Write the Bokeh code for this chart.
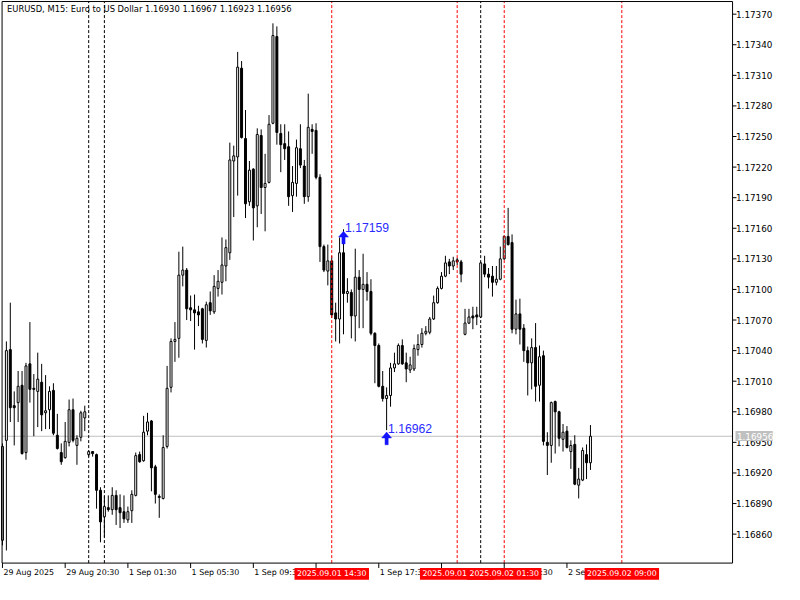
from bokeh.plotting import figure
from bokeh.models import Range1d, Label, ColumnDataSource
from bokeh.core.properties import value
from bokeh.embed import file_html
from bokeh.resources import INLINE

# ---- data (EURUSD M15) ----
opens = [1.16854, 1.16952, 1.17041, 1.16986, 1.16989, 1.17006, 1.16940, 1.17027, 1.17003, 1.17000,
         1.17009, 1.16979, 1.16982, 1.17001, 1.16957, 1.16940, 1.16935, 1.16950, 1.16982, 1.16947,
         1.16955, 1.16974, 1.16938, 1.16941, 1.16938, 1.16903, 1.16877, 1.16886, 1.16884, 1.16898,
         1.16886, 1.16882, 1.16874, 1.16883, 1.16898, 1.16938, 1.16932, 1.16961, 1.16971, 1.16926,
         1.16897, 1.16895, 1.16946, 1.17004, 1.17049, 1.17052, 1.17114, 1.17119, 1.17082, 1.17080,
         1.17078, 1.17081, 1.17050, 1.17087, 1.17078, 1.17101, 1.17107, 1.17123, 1.17136, 1.17226,
         1.17230, 1.17317, 1.17248, 1.17186, 1.17218, 1.17182, 1.17251, 1.17200, 1.17205, 1.17263,
         1.17348, 1.17253, 1.17243, 1.17240, 1.17192, 1.17204, 1.17238, 1.17221, 1.17191, 1.17257,
         1.17256, 1.17210, 1.17142, 1.17118, 1.17128, 1.17077, 1.17071, 1.17136, 1.17096, 1.17097,
         1.17074, 1.17112, 1.17100, 1.17105, 1.17098, 1.17057, 1.17045, 1.17005, 1.16993, 1.16996,
         1.17023, 1.17027, 1.17045, 1.17028, 1.17021, 1.17022, 1.17041, 1.17046, 1.17057, 1.17058,
         1.17071, 1.17087, 1.17101, 1.17113, 1.17127, 1.17123, 1.17129, 1.17127, 1.17056, 1.17067,
         1.17074, 1.17075, 1.17073, 1.17125, 1.17115, 1.17113, 1.17107, 1.17110, 1.17130, 1.17152,
         1.17146, 1.17061, 1.17076, 1.17062, 1.17040, 1.17028, 1.17043, 1.17006, 1.17035, 1.16950,
         1.16947, 1.16990, 1.16980, 1.16953, 1.16961, 1.16941, 1.16948, 1.16908, 1.16913, 1.16938,
         1.16930]
highs = [1.16949, 1.17049, 1.17087, 1.17000, 1.17020, 1.17020, 1.17028, 1.17068, 1.17017, 1.17038,
         1.17027, 1.17016, 1.17005, 1.17008, 1.16978, 1.16949, 1.16970, 1.16992, 1.16993, 1.16957,
         1.16981, 1.16986, 1.16942, 1.16941, 1.16939, 1.16906, 1.16897, 1.16898, 1.16906, 1.16903,
         1.16899, 1.16898, 1.16887, 1.16903, 1.16940, 1.16941, 1.16976, 1.16979, 1.16972, 1.16928,
         1.16899, 1.16957, 1.17025, 1.17052, 1.17068, 1.17137, 1.17142, 1.17121, 1.17094, 1.17095,
         1.17084, 1.17082, 1.17088, 1.17098, 1.17114, 1.17119, 1.17151, 1.17149, 1.17244, 1.17241,
         1.17333, 1.17324, 1.17276, 1.17226, 1.17219, 1.17258, 1.17257, 1.17233, 1.17271, 1.17361,
         1.17358, 1.17262, 1.17262, 1.17255, 1.17221, 1.17247, 1.17262, 1.17227, 1.17292, 1.17262,
         1.17263, 1.17213, 1.17144, 1.17144, 1.17133, 1.17087, 1.17151, 1.17159, 1.17111, 1.17100,
         1.17140, 1.17119, 1.17135, 1.17117, 1.17110, 1.17058, 1.17047, 1.17020, 1.17004, 1.17028,
         1.17038, 1.17047, 1.17051, 1.17038, 1.17034, 1.17046, 1.17056, 1.17062, 1.17064, 1.17073,
         1.17094, 1.17103, 1.17117, 1.17133, 1.17130, 1.17132, 1.17131, 1.17129, 1.17081, 1.17081,
         1.17083, 1.17083, 1.17127, 1.17133, 1.17121, 1.17123, 1.17123, 1.17142, 1.17153, 1.17180,
         1.17154, 1.17090, 1.17091, 1.17066, 1.17044, 1.17052, 1.17067, 1.17045, 1.17040, 1.16960,
         1.16990, 1.16991, 1.16981, 1.16968, 1.16966, 1.16952, 1.16957, 1.16925, 1.16945, 1.16948,
         1.16967]
lows = [1.16849, 1.16844, 1.16970, 1.16947, 1.16970, 1.16938, 1.16933, 1.16989, 1.16956, 1.16965,
        1.16961, 1.16963, 1.16963, 1.16957, 1.16943, 1.16928, 1.16934, 1.16946, 1.16950, 1.16928,
        1.16951, 1.16961, 1.16936, 1.16936, 1.16885, 1.16852, 1.16857, 1.16882, 1.16879, 1.16869,
        1.16866, 1.16871, 1.16871, 1.16871, 1.16897, 1.16930, 1.16931, 1.16957, 1.16902, 1.16890,
        1.16876, 1.16894, 1.16944, 1.16999, 1.17029, 1.17033, 1.17103, 1.17070, 1.17069, 1.17041,
        1.17064, 1.17047, 1.17043, 1.17075, 1.17076, 1.17093, 1.17095, 1.17108, 1.17129, 1.17171,
        1.17192, 1.17248, 1.17170, 1.17182, 1.17148, 1.17161, 1.17174, 1.17157, 1.17204, 1.17262,
        1.17242, 1.17215, 1.17227, 1.17182, 1.17176, 1.17191, 1.17219, 1.17184, 1.17186, 1.17233,
        1.17208, 1.17127, 1.17117, 1.17104, 1.17072, 1.17049, 1.17047, 1.17056, 1.17087, 1.17052,
        1.17049, 1.17062, 1.17062, 1.17089, 1.17055, 1.17008, 1.17004, 1.16990, 1.16962, 1.16985,
        1.17019, 1.17026, 1.17026, 1.17009, 1.17018, 1.17020, 1.17035, 1.17043, 1.17055, 1.17056,
        1.17070, 1.17086, 1.17100, 1.17112, 1.17115, 1.17119, 1.17124, 1.17107, 1.17055, 1.17066,
        1.17061, 1.17065, 1.17072, 1.17112, 1.17101, 1.17093, 1.17104, 1.17109, 1.17129, 1.17143,
        1.17057, 1.17056, 1.17046, 1.17029, 1.16996, 1.17002, 1.16990, 1.16990, 1.16947, 1.16918,
        1.16930, 1.16939, 1.16946, 1.16941, 1.16944, 1.16924, 1.16908, 1.16895, 1.16912, 1.16914,
        1.16923]
closes = [1.16946, 1.17040, 1.16984, 1.16984, 1.17005, 1.16939, 1.17025, 1.17002, 1.17002, 1.17012,
          1.16977, 1.16981, 1.17000, 1.16959, 1.16944, 1.16931, 1.16951, 1.16982, 1.16952, 1.16954,
          1.16979, 1.16980, 1.16941, 1.16939, 1.16903, 1.16872, 1.16887, 1.16884, 1.16898, 1.16884,
          1.16881, 1.16875, 1.16882, 1.16899, 1.16937, 1.16931, 1.16960, 1.16970, 1.16925, 1.16899,
          1.16896, 1.16945, 1.17003, 1.17049, 1.17051, 1.17114, 1.17119, 1.17081, 1.17080, 1.17077,
          1.17075, 1.17051, 1.17085, 1.17079, 1.17103, 1.17108, 1.17124, 1.17141, 1.17227, 1.17231,
          1.17318, 1.17249, 1.17184, 1.17217, 1.17180, 1.17252, 1.17200, 1.17204, 1.17262, 1.17349,
          1.17254, 1.17242, 1.17238, 1.17191, 1.17205, 1.17239, 1.17222, 1.17191, 1.17259, 1.17255,
          1.17210, 1.17142, 1.17119, 1.17128, 1.17075, 1.17071, 1.17136, 1.17096, 1.17098, 1.17074,
          1.17112, 1.17100, 1.17105, 1.17098, 1.17057, 1.17045, 1.17005, 1.16993, 1.16996, 1.17023,
          1.17027, 1.17045, 1.17027, 1.17022, 1.17026, 1.17042, 1.17046, 1.17057, 1.17059, 1.17071,
          1.17087, 1.17101, 1.17113, 1.17126, 1.17123, 1.17128, 1.17127, 1.17115, 1.17067, 1.17073,
          1.17072, 1.17073, 1.17126, 1.17115, 1.17112, 1.17107, 1.17110, 1.17130, 1.17152, 1.17144,
          1.17061, 1.17076, 1.17061, 1.17040, 1.17028, 1.17043, 1.17005, 1.17034, 1.16951, 1.16947,
          1.16989, 1.16980, 1.16954, 1.16960, 1.16945, 1.16947, 1.16909, 1.16914, 1.16942, 1.16930,
          1.16956]

symbol_title = "EURUSD, M15:  Euro to US Dollar"
price_ticks = [1.16860, 1.16890, 1.16920, 1.16950, 1.16980, 1.17010, 1.17040, 1.17070, 1.17100,
               1.17130, 1.17160, 1.17190, 1.17220, 1.17250, 1.17280, 1.17310, 1.17340, 1.17370]
time_tick_bars = [0, 16, 32, 48, 64, 80, 96, 112, 128, 144]
time_tick_labels = ["29 Aug 2025", "29 Aug 20:30", "1 Sep 01:30", "1 Sep 05:30", "1 Sep 09:30",
                    "1 Sep 13:30", "1 Sep 17:30", "1 Sep 21:30", "2 Sep 01:30", "2 Sep 05:30"]
separator_bars = [22, 26, 122]
vline_bars = [84, 116, 128, 158]
vline_labels = ["2025.09.01 14:30", "2025.09.01 22:30", "2025.09.02 01:30", "2025.09.02 09:00"]
arrow_bars = [87, 98]
arrow_prices = [1.17159, 1.16962]

# ---- layout (chart window: 4 px per bar) ----
W, H = 784, 584
XR = (-0.5, 199.5)              # whole canvas in bar units
YR = (1.168106, 1.173834)       # whole canvas in price units
K_L, K_R = -0.1, 186.25         # chart frame left / right (price scale line)
P_BOT, P_TOP = 1.168316, 1.173824
RX = (XR[1] - XR[0]) / 800.0    # data per reference pixel
RY = (YR[1] - YR[0]) / 600.0
FONT = value("DejaVu Sans")

p = figure(width=W, height=H, x_range=Range1d(*XR), y_range=Range1d(*YR),
           output_backend="svg", toolbar_location=None,
           x_axis_location=None, y_axis_location=None, min_border=0)
p.xgrid.visible = False
p.ygrid.visible = False
p.outline_line_color = None
p.background_fill_color = "white"
p.border_fill_color = "white"

# current price line (behind candles)
p.segment(x0=[K_L], y0=[closes[-1]], x1=[K_R], y1=[closes[-1]], line_color="#c0c0c0", line_width=1)

# period separators
p.segment(x0=separator_bars, y0=[P_BOT] * len(separator_bars), x1=separator_bars,
          y1=[P_TOP] * len(separator_bars), line_color="black", line_dash="3 2", line_width=1)

# ---- candles ----
bars = list(range(len(opens)))
up = [i for i in bars if closes[i] >= opens[i]]
dn = [i for i in bars if closes[i] < opens[i]]
p.segment(x0=bars, y0=highs, x1=bars, y1=lows, line_color="black", line_width=1)
p.vbar(x=up, width=0.5, top=[closes[i] for i in up], bottom=[opens[i] for i in up],
       fill_color="white", line_color="black", line_width=1)
p.vbar(x=dn, width=0.5, top=[opens[i] for i in dn], bottom=[closes[i] for i in dn],
       fill_color="black", line_color="black", line_width=1)

# ---- red vertical lines (objects, drawn over the candles) ----
p.segment(x0=vline_bars, y0=[P_BOT] * len(vline_bars), x1=vline_bars,
          y1=[P_TOP] * len(vline_bars), line_color="#ff0000", line_dash="3 2", line_width=1)

# ---- chart frame and price scale ----
p.segment(x0=[K_L, K_L, K_R, K_L], y0=[P_TOP, P_BOT, P_BOT, P_BOT],
          x1=[K_R, K_L, K_R, K_R], y1=[P_TOP, P_TOP, P_TOP, P_BOT],
          line_color="black", line_width=1)
p.segment(x0=[K_R] * len(price_ticks), y0=price_ticks,
          x1=[K_R + 4 * RX] * len(price_ticks), y1=price_ticks, line_color="black", line_width=1)
p.text(x=[K_R + 3.5 * RX] * len(price_ticks), y=price_ticks,
       text=[f"{t:.5f}" for t in price_ticks], text_align="left", text_baseline="middle",
       text_font=FONT, text_font_size=value("8.8px"), text_color="black")

# ---- time scale ----
p.segment(x0=time_tick_bars, y0=[P_BOT] * len(time_tick_bars), x1=time_tick_bars,
          y1=[P_BOT - 5 * RY] * len(time_tick_bars), line_color="black", line_width=1)
p.text(x=[b + 1 * RX for b in time_tick_bars], y=[P_BOT - 10 * RY] * len(time_tick_bars),
       text=time_tick_labels, text_align="left", text_baseline="middle",
       text_font=FONT, text_font_size=value("7.9px"), text_color="black")

# labels of the red vertical lines on the time scale
lab_src = ColumnDataSource(dict(
    left=[b - 38 * RX for b in vline_bars], right=[b + 38 * RX for b in vline_bars],
    top=[P_BOT - 5 * RY] * len(vline_bars), bottom=[P_BOT - 17 * RY] * len(vline_bars),
    x=vline_bars, y=[P_BOT - 11 * RY] * len(vline_bars), text=vline_labels))
for i in range(len(vline_bars)):
    p.quad(left=[lab_src.data["left"][i]], right=[lab_src.data["right"][i]],
           top=[lab_src.data["top"][i]], bottom=[lab_src.data["bottom"][i]],
           fill_color="#ff0000", line_color=None)
    p.text(x=[vline_bars[i]], y=[lab_src.data["y"][i]], text=[vline_labels[i]],
           text_align="center", text_baseline="middle", text_font=FONT,
           text_font_size=value("7.8px"), text_color="white")

# current price tag on the price scale
p.quad(left=[K_R + 3 * RX], right=[K_R + 41 * RX], top=[closes[-1] + 5.5 * RY],
       bottom=[closes[-1] - 5 * RY], fill_color="#c0c0c0", line_color=None)
p.text(x=[K_R + 4.5 * RX], y=[closes[-1]], text=[f"{closes[-1]:.5f}"], text_align="left",
       text_baseline="middle", text_font=FONT, text_font_size=value("8.8px"),
       text_color="white")

# ---- arrows with price texts ----
shape = [(0, 0), (5, 6), (1.6, 6), (1.6, 13), (-1.6, 13), (-1.6, 6), (-5, 6)]
BLUE = "#1414ff"
axs, ays = [], []
for b, pr in zip(arrow_bars, arrow_prices):
    axs.append([b + dx * RX for dx, dy in shape])
    ays.append([pr - (2 + dy) * RY for dx, dy in shape])
p.patches(xs=axs, ys=ays, fill_color=BLUE, line_color=BLUE, line_width=0.5)
p.text(x=[b + 1.5 * RX for b in arrow_bars], y=[pr + 2 * RY for pr in arrow_prices],
       text=[f"{pr:.5f}" for pr in arrow_prices], text_align="left", text_baseline="middle",
       text_font=value("Liberation Sans"), text_font_size=value("12.2px"), text_color="#2a2aff")

# ---- title line ----
title_text = f"{symbol_title}  {opens[-1]:.5f} {highs[-1]:.5f} {lows[-1]:.5f} {closes[-1]:.5f}"
p.add_layout(Label(x=K_L + 5 * RX, y=P_TOP - 8 * RY, text=title_text, text_align="left",
                   text_baseline="middle", text_font="DejaVu Sans", text_font_size="8.4px",
                   text_color="black"))

html = file_html(p, INLINE, title="EURUSD M15")
open("out.html", "w").write(html)
